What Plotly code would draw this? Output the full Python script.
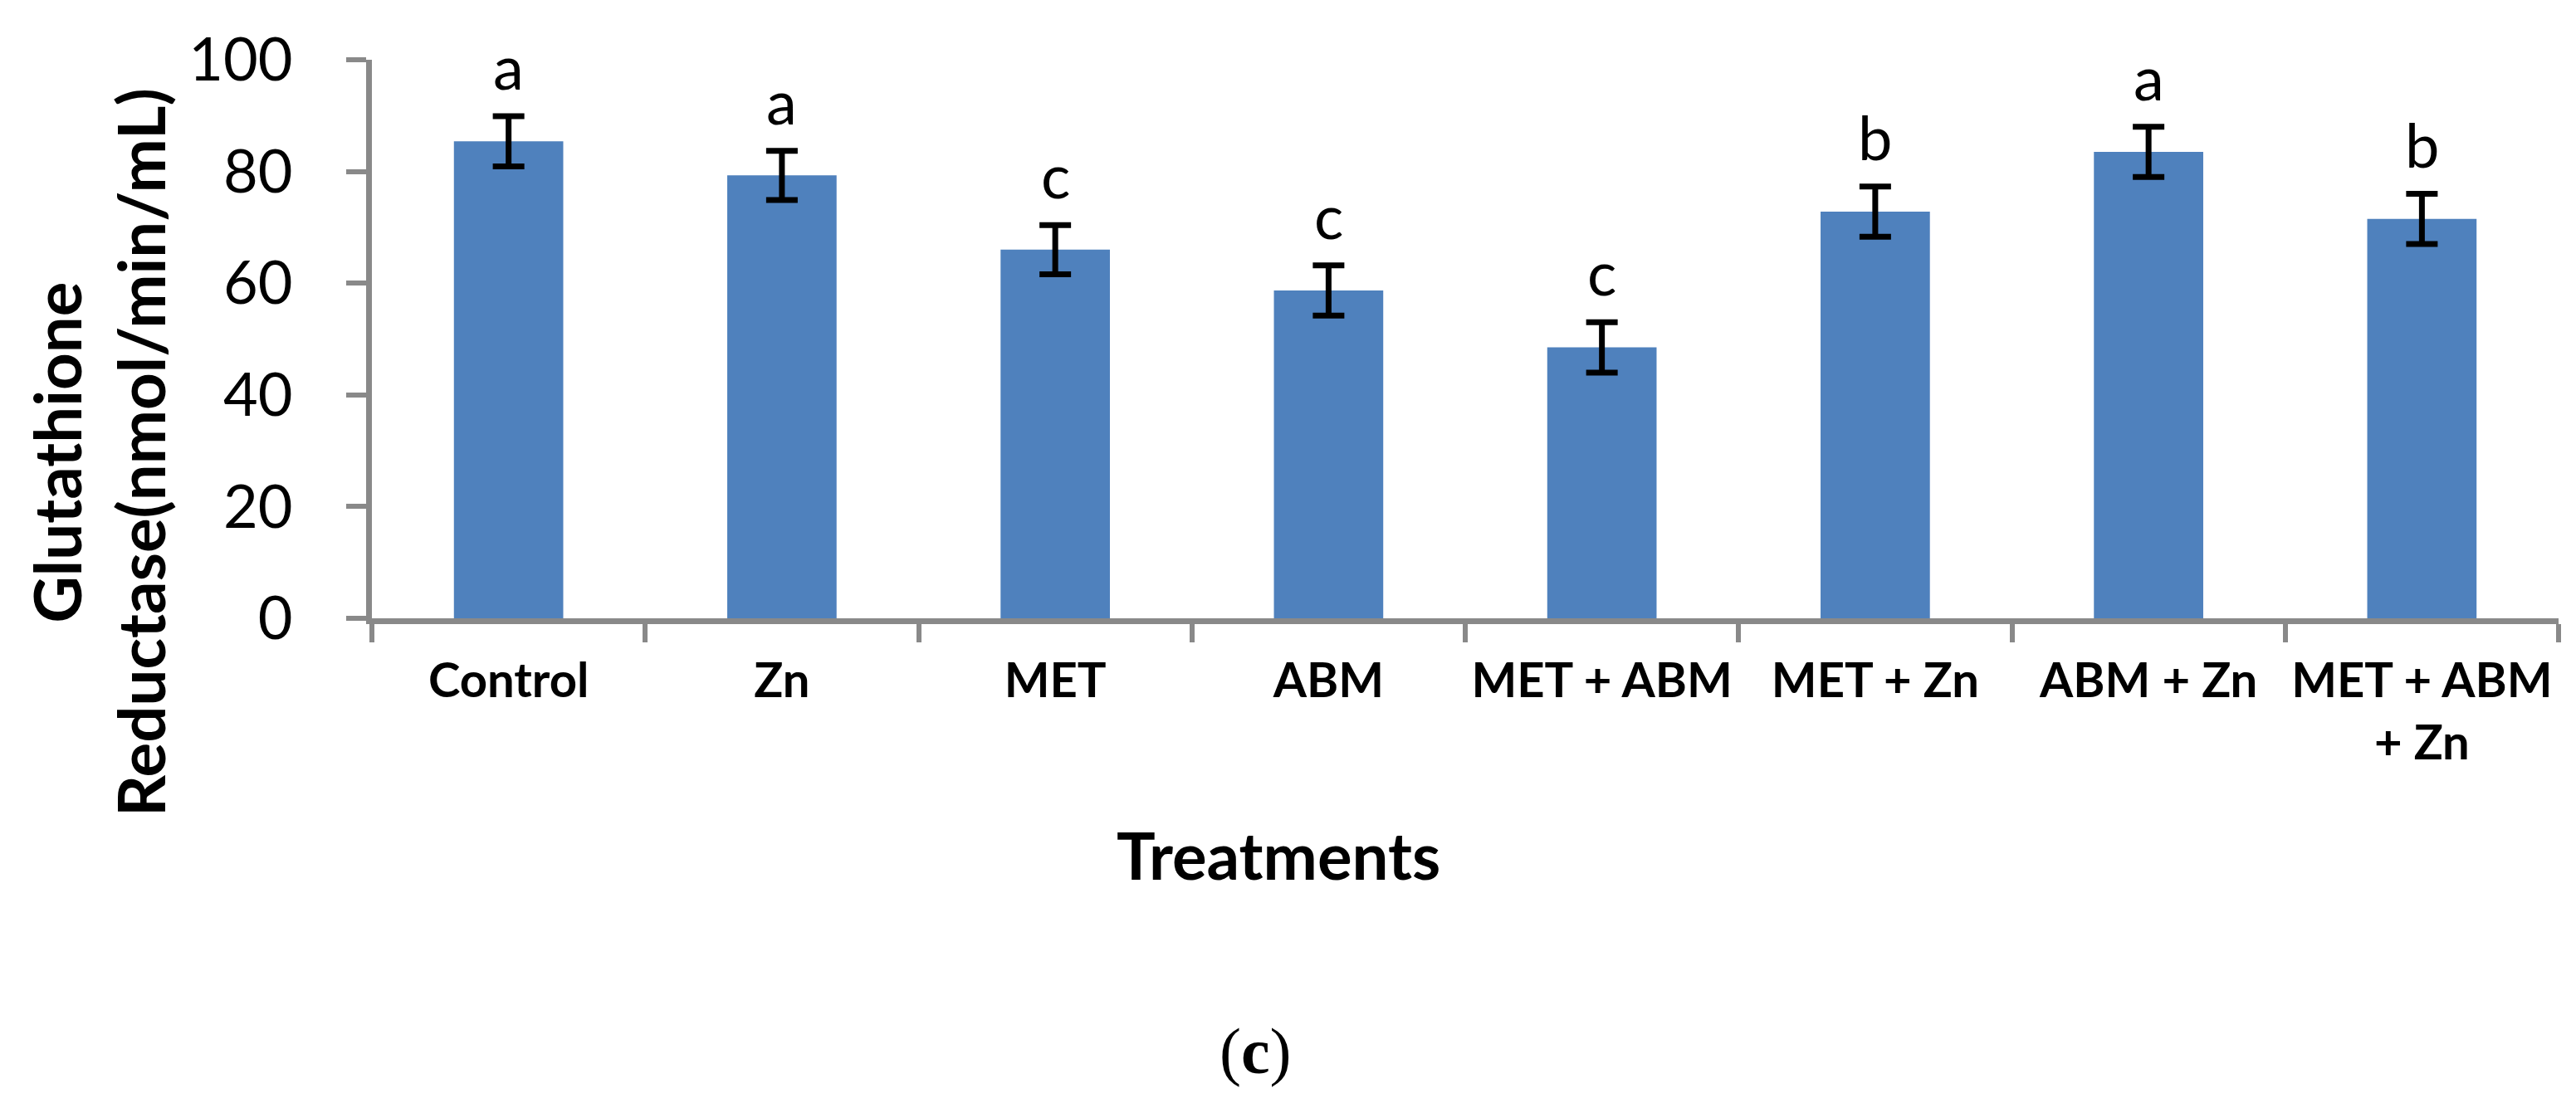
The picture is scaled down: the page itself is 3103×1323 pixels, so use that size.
import plotly.graph_objects as go

categories = ["Control", "Zn", "MET", "ABM", "MET + ABM", "MET + Zn", "ABM + Zn", "MET + ABM<br>+ Zn"]
values = [85.4, 79.3, 66.0, 58.7, 48.5, 72.8, 83.5, 71.5]
errors = [4.5, 4.4, 4.4, 4.5, 4.5, 4.5, 4.5, 4.5]
letters = ["a", "a", "c", "c", "c", "b", "a", "b"]
y_ticks = [0, 20, 40, 60, 80, 100]

W, H = 3103, 1323
L, R, T, B = 440, 29, 64, 586
pw = W - L - R
ph = H - T - B

def px_x(px):
    return (px - L) / pw

def px_y(py):
    return (H - B - py) / ph

AXIS = "#898989"
FONT = "Lato"

fig = go.Figure()
fig.add_trace(go.Bar(
    x=categories, y=values,
    marker=dict(color="#4F81BD", line=dict(width=0)),
    error_y=dict(type="data", array=errors, visible=True, color="black",
                 thickness=7, width=19),
    width=0.4,
))

for c, v, e, s in zip(categories, values, errors, letters):
    fig.add_annotation(x=c, y=v + e, text=s, showarrow=False, xref="x", yref="y",
                       yanchor="bottom", yshift=14,
                       font=dict(family=FONT, size=74, color="black"))

fig.add_annotation(xref="paper", yref="paper", x=px_x(110), y=px_y(537),
                   text="<b>Glutathione<br>Reductase(nmol/min/mL)</b>", textangle=-90,
                   showarrow=False, xanchor="center", yanchor="middle",
                   font=dict(family=FONT, size=78, color="black"))
fig.add_annotation(xref="paper", yref="paper", x=px_x(1532), y=px_y(1022),
                   text="<b>Treatments</b>", showarrow=False,
                   xanchor="center", yanchor="middle",
                   font=dict(family=FONT, size=78, color="black"))
fig.add_annotation(xref="paper", yref="paper", x=px_x(1504), y=px_y(1258),
                   text="(<b>c</b>)", showarrow=False,
                   xanchor="center", yanchor="middle",
                   font=dict(family="Liberation Serif", size=78, color="black"))

fig.update_layout(
    width=W, height=H,
    margin=dict(l=L, r=R, t=T, b=B, pad=0, autoexpand=False),
    plot_bgcolor="white", paper_bgcolor="white",
    showlegend=False,
    font=dict(family=FONT, color="black"),
)
fig.update_xaxes(
    type="category", range=[-0.5, 7.5], automargin=False, tickangle=0,
    showline=True, linecolor=AXIS, linewidth=7,
    ticks="outside", tickson="boundaries", ticklen=22, tickwidth=6, tickcolor=AXIS,
    tickfont=dict(family=FONT, size=58, color="black", weight="bold"),
    ticklabelstandoff=18,
    showgrid=False, zeroline=False,
)
fig.update_yaxes(
    range=[0, 100], tickvals=y_ticks, automargin=False,
    showline=True, linecolor=AXIS, linewidth=7,
    ticks="outside", ticklen=24, tickwidth=6, tickcolor=AXIS,
    tickfont=dict(family=FONT, size=72, color="black"),
    ticklabelstandoff=50,
    showgrid=False, zeroline=False,
)

fig.write_html("out.html")
